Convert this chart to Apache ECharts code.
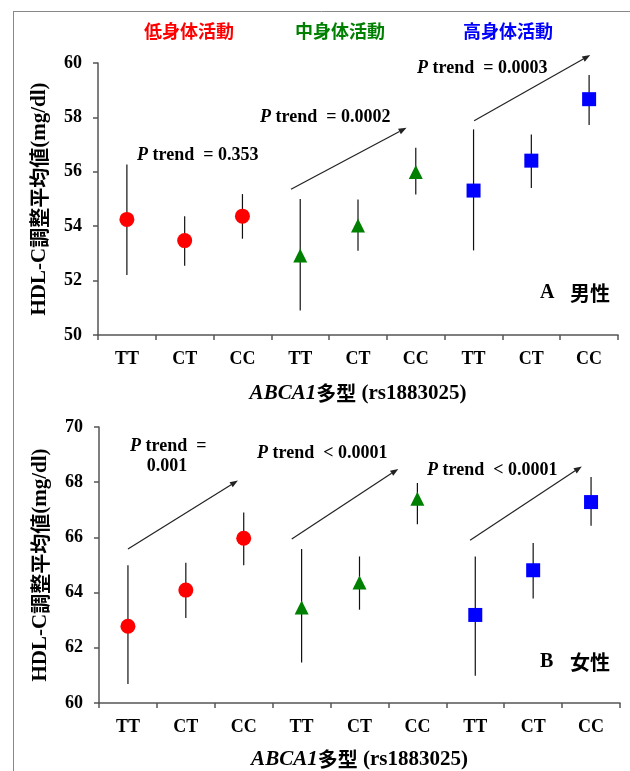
<!DOCTYPE html>
<html><head><meta charset="utf-8">
<script src="https://cdn.jsdelivr.net/npm/echarts@6/dist/echarts.min.js"></script>
<style>html,body{margin:0;padding:0;background:#fff}#c{width:630px;height:771px}</style>
</head><body><div id="c"></div>
<script>
const categories = ['TT','CT','CC','TT','CT','CC','TT','CT','CC'];
const groupNames = ['低身体活動','中身体活動','高身体活動'];
const maleMean  = [54.25, 53.47, 54.37, 52.92, 54.03, 55.99, 55.31, 56.41, 58.67];
const maleLow   = [52.21, 52.55, 53.54, 50.90, 53.10, 55.17, 53.11, 55.40, 57.72];
const maleHigh  = [56.27, 54.37, 55.18, 55.00, 54.98, 56.88, 57.56, 57.37, 59.56];
const femaleMean = [62.78, 64.09, 65.97, 63.46, 64.37, 67.40, 63.19, 64.81, 67.28];
const femaleLow  = [60.69, 63.08, 64.99, 61.47, 63.38, 66.48, 60.99, 63.79, 66.42];
const femaleHigh = [64.99, 65.08, 66.90, 65.58, 65.31, 67.97, 65.31, 65.80, 68.19];
const maleYTicks = [50, 60, 2];
const femaleYTicks = [60, 70, 2];
// trend arrows: [x1, y1, x2, y2] in category-index / value units
const maleArrows = [[2.84, 55.36, 4.84, 57.62], [6.01, 57.88, 8.02, 60.29]];
const femaleArrows = [[0.0, 65.58, 1.90, 68.06], [2.83, 65.94, 4.67, 68.48], [5.91, 65.90, 7.84, 68.57]];
const maleTrends = ['= 0.353', '= 0.0002', '= 0.0003'];
const femaleTrends = ['= ', '< 0.0001', '< 0.0001'];

const SERIF = '"Liberation Serif","Times New Roman",serif';
const CJK = '"Noto Sans CJK JP","Noto Sans CJK SC",sans-serif';
const colors = ['#ff0000', '#008000', '#0000ff'];
const symbols = ['circle', 'triangle', 'rect'];

const chart = echarts.init(document.getElementById('c'), null, {renderer: 'canvas'});

function axesFor(gi, ticks) {
  const x = {
    type: 'category', gridIndex: gi, data: categories, boundaryGap: true,
    axisLine: {onZero: false, lineStyle: {color: '#555', width: 1.5}},
    axisTick: {show: true, length: 5, lineStyle: {color: '#555', width: 1.5}},
    axisLabel: {color: '#000', fontFamily: SERIF, fontWeight: 'bold', fontSize: 18, margin: 15},
    name: '{i|ABCA1}{c|多型}{s| (rs1883025)}',
    nameLocation: 'middle', nameGap: gi === 0 ? 48 : 46,
    nameTextStyle: {rich: {
      i: {fontFamily: SERIF, fontStyle: 'italic', fontWeight: 'bold', fontSize: 21, color: '#000'},
      c: {fontFamily: CJK, fontWeight: 'bold', fontSize: 20, color: '#000'},
      s: {fontFamily: SERIF, fontWeight: 'bold', fontSize: 21, color: '#000'}
    }}
  };
  const xv = {type: 'value', gridIndex: gi, min: -0.5, max: 8.5, show: false,
    axisLine: {onZero: false}};
  const y = {
    type: 'value', gridIndex: gi, min: ticks[0], max: ticks[1], interval: ticks[2],
    splitLine: {show: false},
    axisLine: {show: true, onZero: false, lineStyle: {color: '#555', width: 1.5}},
    axisTick: {show: true, length: 5, lineStyle: {color: '#555', width: 1.5}},
    axisLabel: {color: '#000', fontFamily: SERIF, fontWeight: 'bold', fontSize: 18, margin: 16},
    name: '{a|HDL-C}{b|調整平均値}{a|(mg/dl)}',
    nameLocation: 'middle', nameRotate: 90, nameGap: 48,
    nameTextStyle: {rich: {
      a: {fontFamily: SERIF, fontWeight: 'bold', fontSize: 21, color: '#000'},
      b: {fontFamily: CJK, fontWeight: 'bold', fontSize: 20, color: '#000'}
    }}
  };
  return {x, xv, y};
}

const a0 = axesFor(0, maleYTicks), a1 = axesFor(1, femaleYTicks);

function errSeries(xi, yi, low, high) {
  return {
    type: 'custom', xAxisIndex: xi, yAxisIndex: yi, z: 2, silent: true,
    data: low.map((l, i) => [i, l, high[i]]),
    renderItem: function (params, api) {
      const p1 = api.coord([api.value(0), api.value(1)]);
      const p2 = api.coord([api.value(0), api.value(2)]);
      return {type: 'line', shape: {x1: p1[0], y1: p1[1], x2: p2[0], y2: p2[1]},
        style: {stroke: '#111', lineWidth: 1.2}};
    }
  };
}
function markerSeries(xi, yi, mean) {
  return [0, 1, 2].map(g => ({
    type: 'scatter', xAxisIndex: xi, yAxisIndex: yi, z: 5,
    symbol: symbols[g], symbolSize: g === 0 ? 15 : 14,
    itemStyle: {color: colors[g], opacity: 1},
    data: [0, 1, 2].map(k => [g * 3 + k, mean[g * 3 + k]])
  }));
}
function arrowSeries(xi, yi, arrows) {
  return {
    type: 'custom', xAxisIndex: xi, yAxisIndex: yi, z: 3, silent: true, clip: false,
    data: arrows,
    renderItem: function (params, api) {
      const p1 = api.coord([api.value(0), api.value(1)]);
      const p2 = api.coord([api.value(2), api.value(3)]);
      const dx = p2[0] - p1[0], dy = p2[1] - p1[1];
      const len = Math.sqrt(dx * dx + dy * dy), ux = dx / len, uy = dy / len;
      const hl = 8, hw = 3;
      const bx = p2[0] - ux * hl, by = p2[1] - uy * hl;
      return {type: 'group', children: [
        {type: 'line', shape: {x1: p1[0], y1: p1[1], x2: bx, y2: by}, style: {stroke: '#222', lineWidth: 1.2}},
        {type: 'polygon', shape: {points: [[p2[0], p2[1]], [bx - uy * hw, by + ux * hw], [bx + uy * hw, by - ux * hw]]},
          style: {fill: '#222'}}
      ]};
    }
  };
}

function pText(x, y, rest) {
  return {type: 'text', x: x, y: y, style: {
    text: '{p|P}{t| trend  ' + rest + '}', textVerticalAlign: 'middle',
    rich: {p: {fontFamily: SERIF, fontStyle: 'italic', fontWeight: 'bold', fontSize: 18, fill: '#000'},
           t: {fontFamily: SERIF, fontWeight: 'bold', fontSize: 18, fill: '#000'}}
  }};
}
function plain(x, y, text, font, fill, align) {
  return {type: 'text', x: x, y: y, style: {text: text, font: font, fill: fill || '#000',
    textAlign: align || 'left', textVerticalAlign: 'middle'}};
}

const graphics = [
  {type: 'line', shape: {x1: 13, y1: 11.5, x2: 630, y2: 11.5}, style: {stroke: '#888', lineWidth: 1}},
  {type: 'line', shape: {x1: 13.5, y1: 11, x2: 13.5, y2: 771}, style: {stroke: '#888', lineWidth: 1}},
  plain(189, 31, groupNames[0], 'bold 18px ' + CJK, colors[0], 'center'),
  plain(340, 31, groupNames[1], 'bold 18px ' + CJK, colors[1], 'center'),
  plain(508, 31, groupNames[2], 'bold 18px ' + CJK, colors[2], 'center'),
  pText(137, 155, maleTrends[0]),
  pText(260, 117, maleTrends[1]),
  pText(417, 68, maleTrends[2]),
  plain(540, 293, 'A', 'bold 20px ' + SERIF),
  plain(570, 293, '男性', 'bold 20px ' + CJK),
  pText(130, 446, femaleTrends[0]),
  plain(167, 466, '0.001', 'bold 18px ' + SERIF, '#000', 'center'),
  pText(257, 453, femaleTrends[1]),
  pText(427, 470, femaleTrends[2]),
  plain(540, 662, 'B', 'bold 20px ' + SERIF),
  plain(570, 662, '女性', 'bold 20px ' + CJK)
];

chart.setOption({
  animation: false,
  backgroundColor: '#fff',
  grid: [
    {left: 98, right: 12, top: 63, height: 272},
    {left: 99, right: 10, top: 427, height: 278}
  ],
  xAxis: [a0.x, a1.x, a0.xv, a1.xv],
  yAxis: [a0.y, a1.y],
  series: [
    errSeries(0, 0, maleLow, maleHigh),
    ...markerSeries(0, 0, maleMean),
    arrowSeries(2, 0, maleArrows),
    errSeries(1, 1, femaleLow, femaleHigh),
    ...markerSeries(1, 1, femaleMean),
    arrowSeries(3, 1, femaleArrows)
  ],
  graphic: graphics
});
</script></body></html>
